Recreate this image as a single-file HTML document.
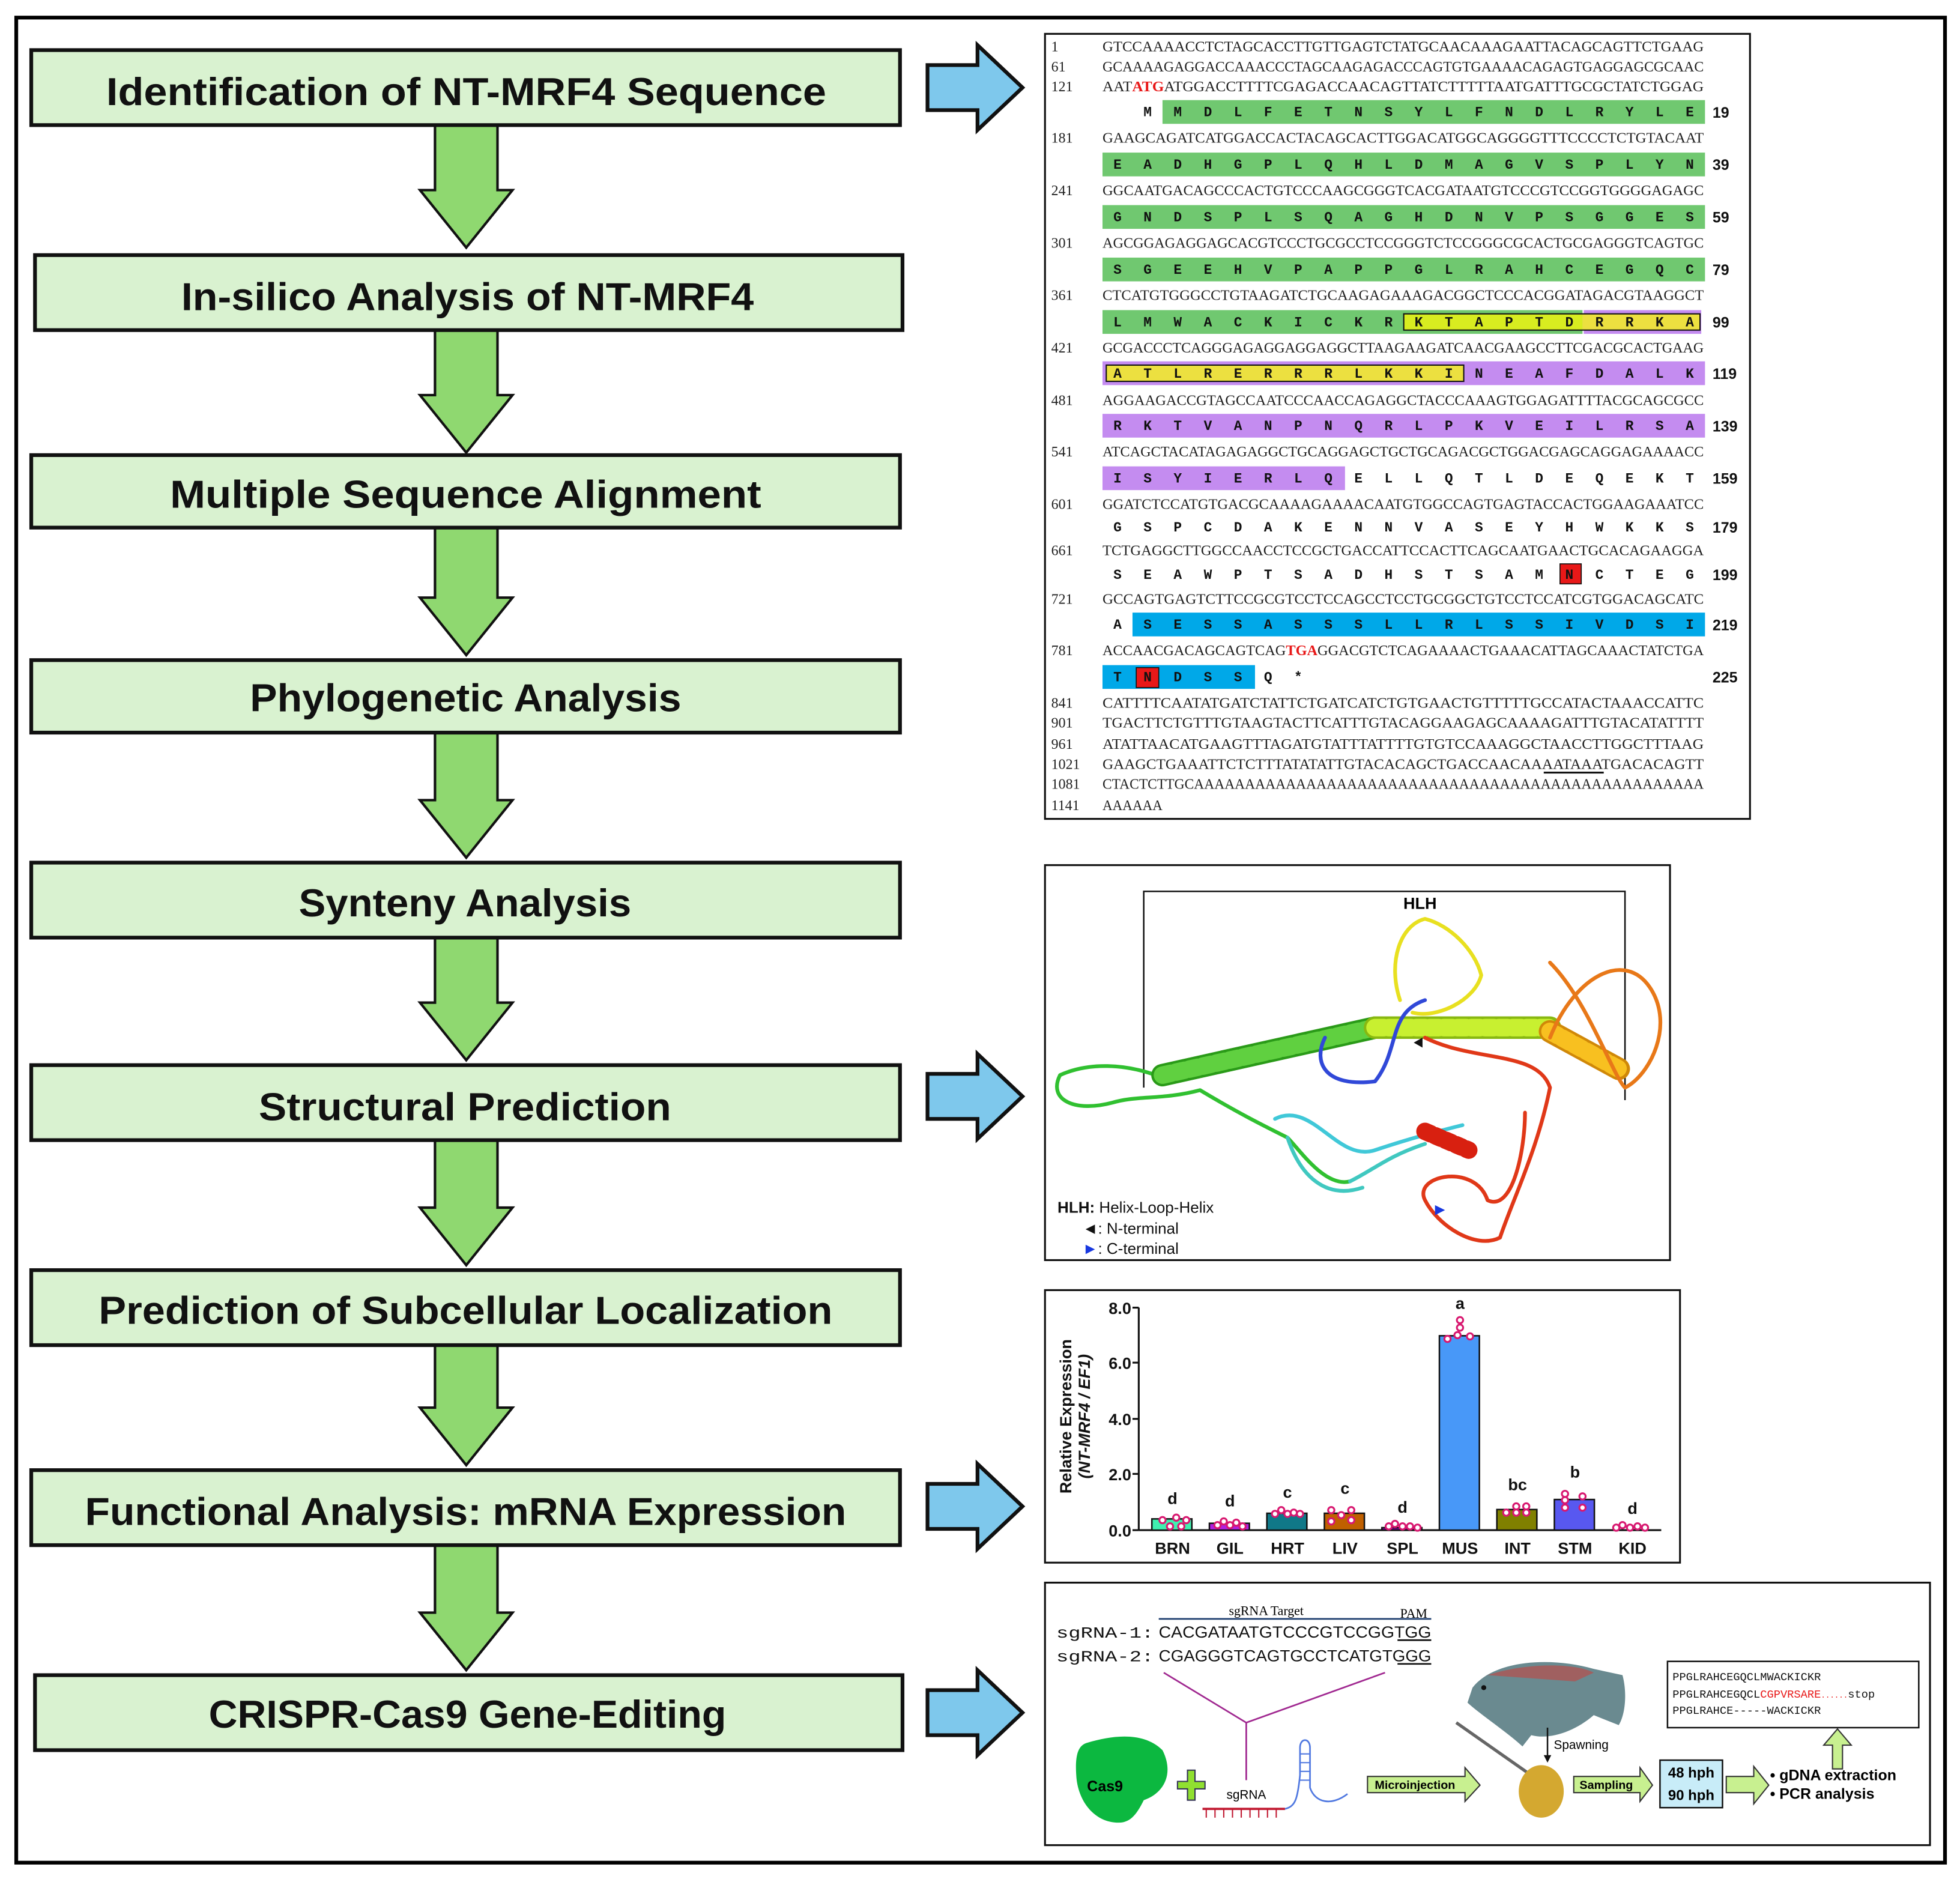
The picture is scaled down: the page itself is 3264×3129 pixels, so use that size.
<!DOCTYPE html>
<html><head><meta charset="utf-8"><style>html,body{margin:0;padding:0;background:#fff}svg{display:block}</style></head><body>
<svg xmlns="http://www.w3.org/2000/svg" width="3264" height="3129" viewBox="0 0 1568 1503">
<rect x="0" y="0" width="1568" height="1503" fill="#fff"/>
<rect x="13" y="14" width="1543" height="1476" fill="none" stroke="#000" stroke-width="3"/>

<!-- green down arrows -->
<g fill="#8fd870" stroke="#111" stroke-width="2">
<path d="M348,100 L398,100 L398,152 L410,152 L373,198 L336,152 L348,152 Z"/>
<path d="M348,264 L398,264 L398,316 L410,316 L373,362 L336,316 L348,316 Z"/>
<path d="M348,422 L398,422 L398,478 L410,478 L373,524 L336,478 L348,478 Z"/>
<path d="M348,586 L398,586 L398,640 L410,640 L373,686 L336,640 L348,640 Z"/>
<path d="M348,750 L398,750 L398,802 L410,802 L373,848 L336,802 L348,802 Z"/>
<path d="M348,912 L398,912 L398,966 L410,966 L373,1012 L336,966 L348,966 Z"/>
<path d="M348,1076 L398,1076 L398,1126 L410,1126 L373,1172 L336,1126 L348,1126 Z"/>
<path d="M348,1236 L398,1236 L398,1290 L410,1290 L373,1336 L336,1290 L348,1290 Z"/>
</g>

<!-- flow boxes -->
<g fill="#d9f2d0" stroke="#111" stroke-width="3">
<rect x="25" y="40" width="695" height="60"/>
<rect x="28" y="204" width="694" height="60"/>
<rect x="25" y="364" width="695" height="58"/>
<rect x="25" y="528" width="695" height="58"/>
<rect x="25" y="690" width="695" height="60"/>
<rect x="25" y="852" width="695" height="60"/>
<rect x="25" y="1016" width="695" height="60"/>
<rect x="25" y="1176" width="695" height="60"/>
<rect x="28" y="1340" width="694" height="60"/>
</g>
<g font-family="Liberation Sans, sans-serif" font-weight="bold" font-size="31" fill="#111">
<text x="85" y="84" textLength="576" lengthAdjust="spacingAndGlyphs">Identification of NT-MRF4 Sequence</text>
<text x="145" y="248" textLength="458" lengthAdjust="spacingAndGlyphs">In-silico Analysis of NT-MRF4</text>
<text x="136" y="406" textLength="473" lengthAdjust="spacingAndGlyphs">Multiple Sequence Alignment</text>
<text x="200" y="569" textLength="345" lengthAdjust="spacingAndGlyphs">Phylogenetic Analysis</text>
<text x="239" y="733" textLength="266" lengthAdjust="spacingAndGlyphs">Synteny Analysis</text>
<text x="207" y="896" textLength="330" lengthAdjust="spacingAndGlyphs">Structural Prediction</text>
<text x="79" y="1059" textLength="587" lengthAdjust="spacingAndGlyphs">Prediction of Subcellular Localization</text>
<text x="68" y="1220" textLength="609" lengthAdjust="spacingAndGlyphs">Functional Analysis: mRNA Expression</text>
<text x="167" y="1382" textLength="414" lengthAdjust="spacingAndGlyphs">CRISPR-Cas9 Gene-Editing</text>
</g>

<!-- blue right arrows -->
<g fill="#7ec8ec" stroke="#111" stroke-width="3">
<path d="M742,52 L782,52 L782,36 L818,70 L782,104 L782,88 L742,88 Z"/>
<path d="M742,859 L782,859 L782,843 L818,877 L782,911 L782,895 L742,895 Z"/>
<path d="M742,1187 L782,1187 L782,1171 L818,1205 L782,1239 L782,1223 L742,1223 Z"/>
<path d="M742,1352 L782,1352 L782,1336 L818,1370 L782,1404 L782,1388 L742,1388 Z"/>
</g>

<!-- SEQUENCE PANEL -->
<rect x="836" y="27" width="564" height="628" fill="#fff" stroke="#111" stroke-width="1.5"/>
<g>
<rect x="930" y="80" width="434" height="19" fill="#70c870"/>
<rect x="882" y="122" width="482" height="19" fill="#70c870"/>
<rect x="882" y="164" width="482" height="19" fill="#70c870"/>
<rect x="882" y="206" width="482" height="19" fill="#70c870"/>
<rect x="882" y="248" width="384" height="19" fill="#70c870"/>
<rect x="1267" y="248" width="94" height="19" fill="#c48cf0"/>
<rect x="1123" y="251" width="143" height="13" fill="#d8ec20"/>
<rect x="1266" y="251" width="94" height="13" fill="#ece040"/>
<rect x="1123" y="251" width="237" height="13" fill="none" stroke="#111" stroke-width="1"/>
<rect x="882" y="289" width="482" height="19" fill="#c48cf0"/>
<rect x="885" y="292" width="286" height="13" fill="#ece040" stroke="#111" stroke-width="1"/>
<rect x="882" y="331" width="482" height="19" fill="#c48cf0"/>
<rect x="882" y="373" width="194" height="19" fill="#c48cf0"/>
<rect x="1248" y="451" width="17" height="16" fill="#e81818" stroke="#111" stroke-width="0.8"/>
<rect x="906" y="490" width="458" height="19" fill="#00a8e8"/>
<rect x="882" y="532" width="122" height="19" fill="#00a8e8"/>
<rect x="909" y="534" width="18" height="16" fill="#e81818" stroke="#111" stroke-width="0.8"/>
</g>
<g font-family="Liberation Serif, serif" font-size="11.5" fill="#222">
<text x="841" y="41">1</text><text x="882" y="41" textLength="481" lengthAdjust="spacingAndGlyphs">GTCCAAAACCTCTAGCACCTTGTTGAGTCTATGCAACAAAGAATTACAGCAGTTCTGAAG</text>
<text x="841" y="57">61</text><text x="882" y="57" textLength="481" lengthAdjust="spacingAndGlyphs">GCAAAAGAGGACCAAACCCTAGCAAGAGACCCAGTGTGAAAACAGAGTGAGGAGCGCAAC</text>
<text x="841" y="73">121</text><text x="882" y="73" textLength="481" lengthAdjust="spacingAndGlyphs">AAT<tspan fill="#e81818" font-weight="bold">ATG</tspan>ATGGACCTTTTCGAGACCAACAGTTATCTTTTTAATGATTTGCGCTATCTGGAG</text>
<text x="841" y="114">181</text><text x="882" y="114" textLength="481" lengthAdjust="spacingAndGlyphs">GAAGCAGATCATGGACCACTACAGCACTTGGACATGGCAGGGGTTTCCCCTCTGTACAAT</text>
<text x="841" y="156">241</text><text x="882" y="156" textLength="481" lengthAdjust="spacingAndGlyphs">GGCAATGACAGCCCACTGTCCCAAGCGGGTCACGATAATGTCCCGTCCGGTGGGGAGAGC</text>
<text x="841" y="198">301</text><text x="882" y="198" textLength="481" lengthAdjust="spacingAndGlyphs">AGCGGAGAGGAGCACGTCCCTGCGCCTCCGGGTCTCCGGGCGCACTGCGAGGGTCAGTGC</text>
<text x="841" y="240">361</text><text x="882" y="240" textLength="481" lengthAdjust="spacingAndGlyphs">CTCATGTGGGCCTGTAAGATCTGCAAGAGAAAGACGGCTCCCACGGATAGACGTAAGGCT</text>
<text x="841" y="282">421</text><text x="882" y="282" textLength="481" lengthAdjust="spacingAndGlyphs">GCGACCCTCAGGGAGAGGAGGAGGCTTAAGAAGATCAACGAAGCCTTCGACGCACTGAAG</text>
<text x="841" y="324">481</text><text x="882" y="324" textLength="481" lengthAdjust="spacingAndGlyphs">AGGAAGACCGTAGCCAATCCCAACCAGAGGCTACCCAAAGTGGAGATTTTACGCAGCGCC</text>
<text x="841" y="365">541</text><text x="882" y="365" textLength="481" lengthAdjust="spacingAndGlyphs">ATCAGCTACATAGAGAGGCTGCAGGAGCTGCTGCAGACGCTGGACGAGCAGGAGAAAACC</text>
<text x="841" y="407">601</text><text x="882" y="407" textLength="481" lengthAdjust="spacingAndGlyphs">GGATCTCCATGTGACGCAAAAGAAAACAATGTGGCCAGTGAGTACCACTGGAAGAAATCC</text>
<text x="841" y="444">661</text><text x="882" y="444" textLength="481" lengthAdjust="spacingAndGlyphs">TCTGAGGCTTGGCCAACCTCCGCTGACCATTCCACTTCAGCAATGAACTGCACAGAAGGA</text>
<text x="841" y="483">721</text><text x="882" y="483" textLength="481" lengthAdjust="spacingAndGlyphs">GCCAGTGAGTCTTCCGCGTCCTCCAGCCTCCTGCGGCTGTCCTCCATCGTGGACAGCATC</text>
<text x="841" y="524">781</text><text x="882" y="524" textLength="481" lengthAdjust="spacingAndGlyphs">ACCAACGACAGCAGTCAG<tspan fill="#e81818" font-weight="bold">TGA</tspan>GGACGTCTCAGAAAACTGAAACATTAGCAAACTATCTGA</text>
<text x="841" y="566">841</text><text x="882" y="566" textLength="481" lengthAdjust="spacingAndGlyphs">CATTTTCAATATGATCTATTCTGATCATCTGTGAACTGTTTTTGCCATACTAAACCATTC</text>
<text x="841" y="582">901</text><text x="882" y="582" textLength="481" lengthAdjust="spacingAndGlyphs">TGACTTCTGTTTGTAAGTACTTCATTTGTACAGGAAGAGCAAAAGATTTGTACATATTTT</text>
<text x="841" y="599">961</text><text x="882" y="599" textLength="481" lengthAdjust="spacingAndGlyphs">ATATTAACATGAAGTTTAGATGTATTTATTTTGTGTCCAAAGGCTAACCTTGGCTTTAAG</text>
<text x="841" y="615">1021</text><text x="882" y="615" textLength="481" lengthAdjust="spacingAndGlyphs">GAAGCTGAAATTCTCTTTATATATTGTACACAGCTGACCAACAAAATAAATGACACAGTT</text>
<text x="841" y="631">1081</text><text x="882" y="631" textLength="481" lengthAdjust="spacingAndGlyphs">CTACTCTTGCAAAAAAAAAAAAAAAAAAAAAAAAAAAAAAAAAAAAAAAAAAAAAAAAAA</text>
<text x="841" y="648">1141</text><text x="882" y="648" textLength="48" lengthAdjust="spacingAndGlyphs">AAAAAA</text>
</g>
<line x1="1235" y1="618" x2="1283" y2="618" stroke="#111" stroke-width="1.5"/>
<g font-family="Liberation Mono, monospace" font-weight="bold" font-size="11" fill="#111" letter-spacing="17.5">
<text x="914.8" y="93">MMDLFETNSYLFNDLRYLE</text>
<text x="890.7" y="135">EADHGPLQHLDMAGVSPLYN</text>
<text x="890.7" y="177">GNDSPLSQAGHDNVPSGGES</text>
<text x="890.7" y="219">SGEEHVPAPPGLRAHCEGQC</text>
<text x="890.7" y="261">LMWACKICKRKTAPTDRRKA</text>
<text x="890.7" y="302">ATLRERRRLKKINEAFDALK</text>
<text x="890.7" y="344">RKTVANPNQRLPKVEILRSA</text>
<text x="890.7" y="386">ISYIERLQELLQTLDEQEKT</text>
<text x="890.7" y="425">GSPCDAKENNVASEYHWKKS</text>
<text x="890.7" y="463">SEAWPTSADHSTSAMNCTEG</text>
<text x="890.7" y="503">ASESSASSSLLRLSSIVDSI</text>
<text x="890.7" y="545">TNDSSQ*</text>
</g>
<g font-family="Liberation Sans, sans-serif" font-weight="bold" font-size="12" fill="#111">
<text x="1370" y="94">19</text><text x="1370" y="136">39</text><text x="1370" y="178">59</text><text x="1370" y="220">79</text><text x="1370" y="262">99</text>
<text x="1370" y="303">119</text><text x="1370" y="345">139</text><text x="1370" y="387">159</text><text x="1370" y="426">179</text><text x="1370" y="464">199</text><text x="1370" y="504">219</text><text x="1370" y="546">225</text>
</g>

<!-- STRUCTURE PANEL -->
<rect x="836" y="692" width="500" height="316" fill="#fff" stroke="#111" stroke-width="1.5"/>
<polyline points="915,870 915,713 1300,713 1300,880" fill="none" stroke="#111" stroke-width="1.2"/>
<text x="1136" y="727" font-family="Liberation Sans, sans-serif" font-weight="bold" font-size="13" text-anchor="middle">HLH</text>
<g fill="none" stroke-linecap="round" stroke-linejoin="round">
<path d="M930,862 C900,850 870,850 848,860 C838,880 860,890 890,882 C910,876 930,880 960,872 C990,890 1010,900 1030,910 C1040,920 1060,950 1080,945" stroke="#30c030" stroke-width="3"/>
<path d="M1080,945 C1100,935 1110,925 1140,915 M1030,910 C1040,940 1060,960 1090,950" stroke="#40c8c0" stroke-width="3"/>
<path d="M1020,895 C1050,880 1070,930 1100,920 C1130,910 1150,905 1170,900" stroke="#40c8d8" stroke-width="3"/>
<path d="M930,860 L1100,822" stroke="#2a9a18" stroke-width="18"/>
<path d="M930,860 L1100,822" stroke="#60d040" stroke-width="14" stroke-dasharray="7 4"/>
<path d="M1100,822 L1240,822" stroke="#88b810" stroke-width="18"/>
<path d="M1100,822 L1240,822" stroke="#c8f030" stroke-width="14" stroke-dasharray="7 4"/>
<path d="M1240,825 L1295,855" stroke="#d08808" stroke-width="18"/>
<path d="M1240,825 L1295,855" stroke="#f8c020" stroke-width="14" stroke-dasharray="7 4"/>
<path d="M1120,800 C1110,770 1120,740 1140,735 C1160,740 1180,760 1185,780 C1180,800 1150,815 1130,810" stroke="#e8e020" stroke-width="3"/>
<path d="M1060,830 C1050,850 1060,870 1100,865 C1120,840 1110,810 1140,800" stroke="#3048d8" stroke-width="3"/>
<path d="M1240,830 C1260,780 1300,760 1320,790 C1340,820 1320,860 1300,870 C1290,860 1270,800 1240,770" stroke="#e87818" stroke-width="3"/>
<path d="M1140,830 C1180,850 1230,840 1240,870 C1230,920 1210,960 1200,990 C1180,1000 1150,980 1140,960 C1130,940 1180,930 1190,960 C1210,970 1220,920 1220,890" stroke="#e03818" stroke-width="3"/>
<path d="M1140,905 L1175,920" stroke="#d82010" stroke-width="14" stroke-dasharray="5 4"/>
</g>
<path d="M1138,830 L1131,834 L1138,838 Z" fill="#111"/>
<path d="M1148,964 L1156,968 L1148,972 Z" fill="#1838e0"/>
<g font-family="Liberation Sans, sans-serif" font-size="12.5" fill="#111">
<text x="846" y="970"><tspan font-weight="bold">HLH:</tspan> Helix-Loop-Helix</text>
<text x="866" y="987"><tspan>◄</tspan>: N-terminal</text>
<text x="866" y="1003"><tspan fill="#1838e0">►</tspan>: C-terminal</text>
</g>

<!-- CHART PANEL -->
<rect x="836" y="1032" width="508" height="218" fill="#fff" stroke="#111" stroke-width="1.5"/>
<g stroke="#111" stroke-width="1.5">
<line x1="911" y1="1046" x2="911" y2="1224"/>
<line x1="911" y1="1224" x2="1329" y2="1224"/>
<line x1="906" y1="1046" x2="911" y2="1046"/><line x1="906" y1="1090" x2="911" y2="1090"/><line x1="906" y1="1135" x2="911" y2="1135"/><line x1="906" y1="1179" x2="911" y2="1179"/><line x1="906" y1="1224" x2="911" y2="1224"/>
</g>
<g font-family="Liberation Sans, sans-serif" font-weight="bold" font-size="13" fill="#111" text-anchor="end">
<text x="905" y="1051">8.0</text><text x="905" y="1095">6.0</text><text x="905" y="1140">4.0</text><text x="905" y="1184">2.0</text><text x="905" y="1229">0.0</text>
</g>
<g font-family="Liberation Sans, sans-serif" font-weight="bold" font-size="13" fill="#111" text-anchor="middle">
<text transform="translate(857,1133) rotate(-90)">Relative Expression</text>
<text transform="translate(872,1133) rotate(-90)" font-style="italic">(NT-MRF4 / EF1)</text>
</g>
<g stroke="#111" stroke-width="1.2">
<rect x="921.5" y="1215" width="32" height="9" fill="#40f0b0"/>
<rect x="967.5" y="1218.5" width="32" height="5.5" fill="#b020e0"/>
<rect x="1013.5" y="1210.5" width="32" height="13.5" fill="#107888"/>
<rect x="1059.5" y="1210.5" width="32" height="13.5" fill="#c06000"/>
<rect x="1105.5" y="1222" width="32" height="2" fill="#8800a0"/>
<rect x="1151.5" y="1068.5" width="32" height="155.5" fill="#4898f8"/>
<rect x="1197.5" y="1207.5" width="32" height="16.5" fill="#808000"/>
<rect x="1243.5" y="1199.5" width="32" height="24.5" fill="#5858f0"/>
</g>
<g fill="#fff" stroke="#d81870" stroke-width="1.5">
<circle cx="930" cy="1216" r="2.5"/><circle cx="936" cy="1221" r="2.5"/><circle cx="941" cy="1214" r="2.5"/><circle cx="945" cy="1221" r="2.5"/><circle cx="949" cy="1216" r="2.5"/>
<circle cx="974" cy="1220" r="2.5"/><circle cx="979" cy="1217" r="2.5"/><circle cx="984" cy="1220" r="2.5"/><circle cx="989" cy="1218" r="2.5"/><circle cx="994" cy="1221" r="2.5"/>
<circle cx="1020" cy="1211" r="2.5"/><circle cx="1025" cy="1208" r="2.5"/><circle cx="1030" cy="1211" r="2.5"/><circle cx="1035" cy="1210" r="2.5"/><circle cx="1040" cy="1211" r="2.5"/>
<circle cx="1065" cy="1208" r="2.5"/><circle cx="1065" cy="1217" r="2.5"/><circle cx="1073" cy="1212" r="2.5"/><circle cx="1081" cy="1208" r="2.5"/><circle cx="1081" cy="1216" r="2.5"/>
<circle cx="1111" cy="1221" r="2.5"/><circle cx="1116" cy="1219" r="2.5"/><circle cx="1122" cy="1221" r="2.5"/><circle cx="1128" cy="1221" r="2.5"/><circle cx="1134" cy="1222" r="2.5"/>
<circle cx="1158" cy="1071" r="2.5"/><circle cx="1166" cy="1068" r="2.5"/><circle cx="1168" cy="1056" r="2.5"/><circle cx="1168" cy="1062" r="2.5"/><circle cx="1176" cy="1069" r="2.5"/>
<circle cx="1205" cy="1210" r="2.5"/><circle cx="1213" cy="1205" r="2.5"/><circle cx="1213" cy="1210" r="2.5"/><circle cx="1221" cy="1205" r="2.5"/><circle cx="1221" cy="1210" r="2.5"/>
<circle cx="1252" cy="1195" r="2.5"/><circle cx="1252" cy="1206" r="2.5"/><circle cx="1252" cy="1200" r="2.5"/><circle cx="1266" cy="1197" r="2.5"/><circle cx="1266" cy="1206" r="2.5"/>
<circle cx="1293" cy="1222" r="2.5"/><circle cx="1298" cy="1220" r="2.5"/><circle cx="1304" cy="1222" r="2.5"/><circle cx="1310" cy="1221" r="2.5"/><circle cx="1316" cy="1222" r="2.5"/>
</g>
<g font-family="Liberation Sans, sans-serif" font-weight="bold" font-size="13" fill="#111" text-anchor="middle">
<text x="938" y="1203">d</text><text x="984" y="1205">d</text><text x="1030" y="1198">c</text><text x="1076" y="1195">c</text><text x="1122" y="1210">d</text><text x="1168" y="1047">a</text><text x="1214" y="1192">bc</text><text x="1260" y="1182">b</text><text x="1306" y="1211">d</text>
<text x="938" y="1243">BRN</text><text x="984" y="1243">GIL</text><text x="1030" y="1243">HRT</text><text x="1076" y="1243">LIV</text><text x="1122" y="1243">SPL</text><text x="1168" y="1243">MUS</text><text x="1214" y="1243">INT</text><text x="1260" y="1243">STM</text><text x="1306" y="1243">KID</text>
</g>

<!-- CRISPR PANEL -->
<rect x="836" y="1266" width="708" height="210" fill="#fff" stroke="#111" stroke-width="1.5"/>
<text x="1013" y="1292" font-family="Liberation Serif, serif" font-size="10.5" text-anchor="middle">sgRNA Target</text>
<text x="1131" y="1294" font-family="Liberation Serif, serif" font-size="10.5" text-anchor="middle">PAM</text>
<line x1="927" y1="1295" x2="1145" y2="1295" stroke="#204070" stroke-width="1.3"/>
<g font-family="Liberation Mono, monospace" font-size="12.5" fill="#111">
<text x="845" y="1310" textLength="78" lengthAdjust="spacingAndGlyphs">sgRNA-1:</text>
<text x="845" y="1329" textLength="78" lengthAdjust="spacingAndGlyphs">sgRNA-2:</text>
</g>
<g font-family="Liberation Sans, sans-serif" font-size="13" fill="#111">
<text x="927" y="1310" textLength="218" lengthAdjust="spacingAndGlyphs">CACGATAATGTCCCGTCCGGTGG</text>
<text x="927" y="1329" textLength="218" lengthAdjust="spacingAndGlyphs">CGAGGGTCAGTGCCTCATGTGGG</text>
</g>
<line x1="1118" y1="1312" x2="1145" y2="1312" stroke="#111" stroke-width="1.3"/>
<line x1="1118" y1="1331" x2="1145" y2="1331" stroke="#111" stroke-width="1.3"/>
<polyline points="931,1338 997,1378 1108,1338" fill="none" stroke="#a02890" stroke-width="1.3"/>
<line x1="997" y1="1378" x2="997" y2="1424" stroke="#a02890" stroke-width="1.3"/>
<path d="M870,1394 C890,1388 915,1385 930,1400 C940,1420 930,1435 915,1440 C910,1450 905,1458 895,1458 C875,1458 862,1440 861,1420 C860,1405 862,1396 870,1394 Z" fill="#0cb840"/>
<text x="884" y="1433" font-family="Liberation Sans, sans-serif" font-weight="bold" font-size="12" text-anchor="middle">Cas9</text>
<path d="M950,1416 L956,1416 L956,1425 L964,1425 L964,1431 L956,1431 L956,1440 L950,1440 L950,1431 L942,1431 L942,1425 L950,1425 Z" fill="#90e030" stroke="#335" stroke-width="1"/>
<text x="997" y="1439" font-family="Liberation Sans, sans-serif" font-size="10" text-anchor="middle">sgRNA</text>
<g stroke="#c01830" stroke-width="1"><line x1="962" y1="1447" x2="1028" y2="1447" stroke-width="1.8"/>
<line x1="965" y1="1447" x2="965" y2="1454"/><line x1="972" y1="1447" x2="972" y2="1454"/><line x1="979" y1="1447" x2="979" y2="1454"/><line x1="986" y1="1447" x2="986" y2="1454"/><line x1="993" y1="1447" x2="993" y2="1454"/><line x1="1000" y1="1447" x2="1000" y2="1454"/><line x1="1007" y1="1447" x2="1007" y2="1454"/><line x1="1014" y1="1447" x2="1014" y2="1454"/><line x1="1021" y1="1447" x2="1021" y2="1454"/></g>
<path d="M1028,1447 C1036,1445 1038,1440 1040,1420 L1040,1398 C1040,1390 1048,1390 1048,1398 L1048,1430 C1052,1442 1065,1445 1078,1435" fill="none" stroke="#5078e0" stroke-width="1.3"/>
<g stroke="#5078e0" stroke-width="1"><line x1="1040" y1="1403" x2="1048" y2="1403"/><line x1="1040" y1="1410" x2="1048" y2="1410"/><line x1="1040" y1="1417" x2="1048" y2="1417"/><line x1="1040" y1="1424" x2="1048" y2="1424"/></g>
<path d="M1094,1421 L1172,1421 L1172,1414 L1184,1428 L1172,1441 L1172,1434 L1094,1434 Z" fill="#c8f090" stroke="#333" stroke-width="1"/>
<text x="1132" y="1431" font-family="Liberation Sans, sans-serif" font-size="9.5" text-anchor="middle" font-weight="bold">Microinjection</text>
<path d="M1178,1350 C1195,1328 1240,1325 1275,1335 L1298,1340 C1302,1355 1300,1372 1295,1380 L1275,1372 C1260,1385 1240,1392 1225,1388 L1218,1397 C1205,1385 1185,1372 1174,1362 Z" fill="#6a8a90"/>
<path d="M1190,1340 C1220,1330 1260,1330 1275,1338 L1260,1345 Z" fill="#a06060"/>
<circle cx="1187" cy="1350" r="2" fill="#111"/>
<line x1="1165" y1="1378" x2="1222" y2="1418" stroke="#666" stroke-width="2.5"/>
<ellipse cx="1233" cy="1433" rx="18" ry="21" fill="#d4a830"/>
<line x1="1238" y1="1382" x2="1238" y2="1406" stroke="#111" stroke-width="1.2"/>
<path d="M1235,1404 L1238,1410 L1241,1404 Z" fill="#111"/>
<text x="1243" y="1399" font-family="Liberation Sans, sans-serif" font-size="10">Spawning</text>
<path d="M1259,1421 L1312,1421 L1312,1414 L1322,1428 L1312,1441 L1312,1434 L1259,1434 Z" fill="#c8f090" stroke="#333" stroke-width="1"/>
<text x="1285" y="1431" font-family="Liberation Sans, sans-serif" font-size="9.5" text-anchor="middle" font-weight="bold">Sampling</text>
<rect x="1328" y="1408" width="50" height="38" fill="#c8ecf8" stroke="#111" stroke-width="1.2"/>
<g font-family="Liberation Sans, sans-serif" font-weight="bold" font-size="11.5" text-anchor="middle"><text x="1353" y="1422">48 hph</text><text x="1353" y="1440">90 hph</text></g>
<path d="M1381,1421 L1403,1421 L1403,1413 L1415,1428 L1403,1443 L1403,1434 L1381,1434 Z" fill="#c8f090" stroke="#333" stroke-width="1"/>
<g font-family="Liberation Sans, sans-serif" font-weight="bold" font-size="12"><text x="1416" y="1424">• gDNA extraction</text><text x="1416" y="1439">• PCR analysis</text></g>
<path d="M1466,1415 L1466,1396 L1459,1396 L1470,1383 L1481,1396 L1474,1396 L1474,1415 Z" fill="#c8f090" stroke="#333" stroke-width="1"/>
<rect x="1334" y="1329" width="201" height="53" fill="#fff" stroke="#111" stroke-width="1.2"/>
<g font-family="Liberation Mono, monospace" font-size="9" fill="#111">
<text x="1338" y="1344">PPGLRAHCEGQCLMWACKICKR</text>
<text x="1338" y="1358">PPGLRAHCEGQCL<tspan fill="#e81818">CGPVRSARE</tspan><tspan fill="#e81818" font-size="6">......</tspan>stop</text>
<text x="1338" y="1371">PPGLRAHCE-----WACKICKR</text>
</g>
</svg>
</body></html>
